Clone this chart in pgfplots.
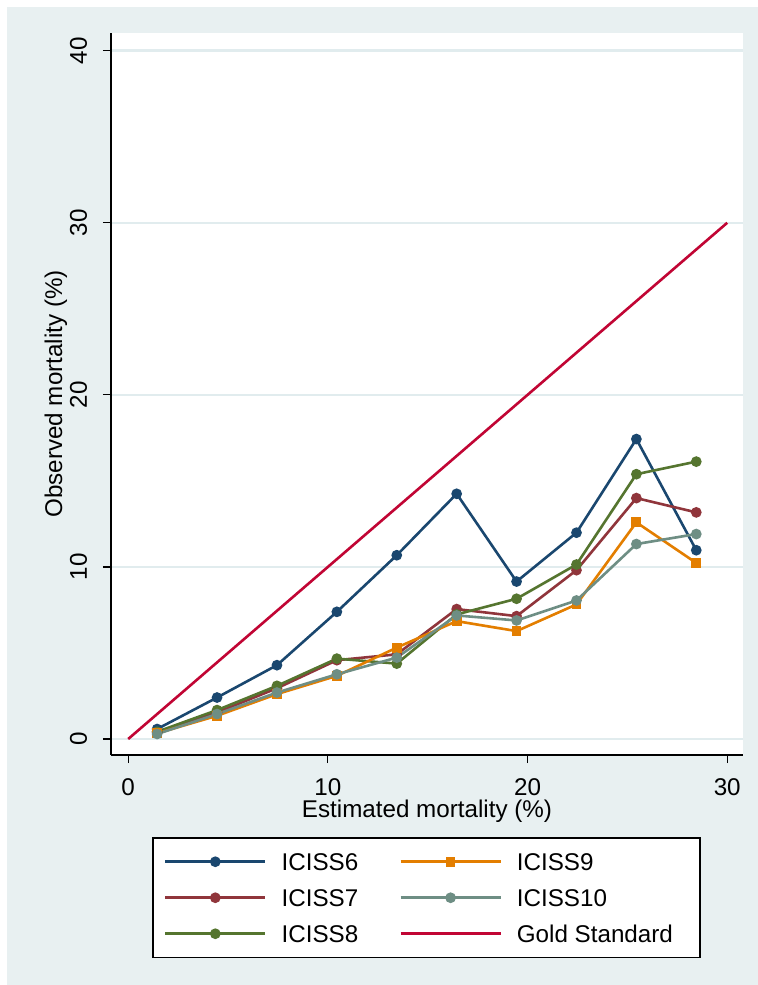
\documentclass[border=0pt]{standalone}
\usepackage{pgfplots}
\pgfplotsset{compat=1.18}
\usetikzlibrary{backgrounds}
\usepackage{fontspec}
\setmainfont{Liberation Sans}
\definecolor{bgc}{HTML}{E8F0F1}
\definecolor{gridc}{HTML}{E1ECEE}
\definecolor{c6}{HTML}{1A476F}
\definecolor{c7}{HTML}{90353B}
\definecolor{c8}{HTML}{55752F}
\definecolor{c9}{HTML}{E37E00}
\definecolor{c10}{HTML}{6E8E84}
\definecolor{cg}{HTML}{C10534}
\pgfplotsset{
  s6/.style={c6, line width=2.6bp, mark=*, mark size=4bp, mark options={solid}},
  s7/.style={c7, line width=2.6bp, mark=*, mark size=4bp, mark options={solid}},
  s8/.style={c8, line width=2.6bp, mark=*, mark size=4bp, mark options={solid}},
  s9/.style={c9, line width=2.6bp, mark=square*, mark size=3.6bp, mark options={solid}},
  s10/.style={c10, line width=2.6bp, mark=*, mark size=4bp, mark options={solid}},
  sg/.style={cg, line width=2.6bp, mark=none},
}
\begin{document}
\begin{tikzpicture}[x=1bp,y=1bp]
\begin{axis}[
  scale only axis, width=632bp, height=722bp,
  xmin=-0.861, xmax=30.79, ymin=-0.93, ymax=41.03,
  axis x line*=bottom, axis y line*=left,
  axis line style={black, line width=1.2bp, -},
  axis background/.style={fill=white},
  xtick={0,10,20,30}, ytick={0,10,20,30,40},
  tick align=outside, major tick length=8bp,
  tick style={black, line width=1.2bp},
  ymajorgrids, grid style={gridc, line width=2.5bp},
  font=\fontsize{24.2bp}{29bp}\selectfont,
  /pgf/number format/assume math mode=true,
  xticklabel style={anchor=base, inner sep=0pt},
  xticklabel shift=32bp,
  yticklabel style={rotate=90, anchor=base, inner sep=0pt},
  yticklabel shift=16bp,
  xlabel={Estimated mortality (\%)},
  ylabel={Observed mortality (\%)},
  xlabel style={at={(axis description cs:0.5,-0.0859)}, anchor=base, inner sep=0pt},
  ylabel style={at={(axis description cs:-0.0775,0.5)}, anchor=base, inner sep=0pt},
  clip=false,
  legend columns=2,
  legend cell align=left,
  legend image code/.code={\draw[#1, mark repeat=2, mark phase=2] plot coordinates {(0bp,0bp) (50bp,0bp) (100bp,0bp)};},
  legend style={at={(axis description cs:0.0665,-0.115)}, anchor=north west,
    draw=black, line width=1.2bp, fill=white, inner xsep=11bp, inner ysep=14.7bp,
    outer sep=0pt,
    nodes={inner sep=0pt, text height=18bp, text depth=0bp},
    row sep=18bp,
    font=\fontsize{24.2bp}{29bp}\selectfont,
    /tikz/every odd column/.append style={column sep=15bp},
    /tikz/every even column/.append style={column sep=41bp}},
]
\coordinate (ll) at (rel axis cs:0,0);
\addplot[s6, forget plot] coordinates {(1.45,0.58) (4.45,2.41) (7.45,4.29) (10.45,7.39) (13.45,10.68) (16.45,14.25) (19.45,9.15) (22.45,11.99) (25.45,17.43) (28.45,10.97)};
\addplot[s7, forget plot] coordinates {(1.45,0.39) (4.45,1.54) (7.45,2.95) (10.45,4.58) (13.45,4.92) (16.45,7.55) (19.45,7.14) (22.45,9.81) (25.45,14.0) (28.45,13.17)};
\addplot[s8, forget plot] coordinates {(1.45,0.42) (4.45,1.68) (7.45,3.09) (10.45,4.67) (13.45,4.38) (16.45,7.24) (19.45,8.15) (22.45,10.14) (25.45,15.39) (28.45,16.12)};
\addplot[s9, forget plot] coordinates {(1.45,0.33) (4.45,1.35) (7.45,2.61) (10.45,3.67) (13.45,5.31) (16.45,6.85) (19.45,6.27) (22.45,7.82) (25.45,12.59) (28.45,10.23)};
\addplot[s10, forget plot] coordinates {(1.45,0.29) (4.45,1.45) (7.45,2.70) (10.45,3.76) (13.45,4.73) (16.45,7.18) (19.45,6.89) (22.45,8.05) (25.45,11.33) (28.45,11.91)};
\addplot[sg, forget plot] coordinates {(0,0) (30,30)};
\addlegendimage{s6}\addlegendentry{ICISS6}
\addlegendimage{s9}\addlegendentry{ICISS9}
\addlegendimage{s7}\addlegendentry{ICISS7}
\addlegendimage{s10}\addlegendentry{ICISS10}
\addlegendimage{s8}\addlegendentry{ICISS8}
\addlegendimage{sg}\addlegendentry{Gold Standard\hspace*{16bp}}
\end{axis}
\begin{pgfonlayer}{background}
\begin{scope}[shift={(ll)}]
\fill[white] (-111,-230) rectangle (647,755);
\fill[bgc] (-104,-230) rectangle (647,748);
\end{scope}
\end{pgfonlayer}
\end{tikzpicture}
\end{document}
